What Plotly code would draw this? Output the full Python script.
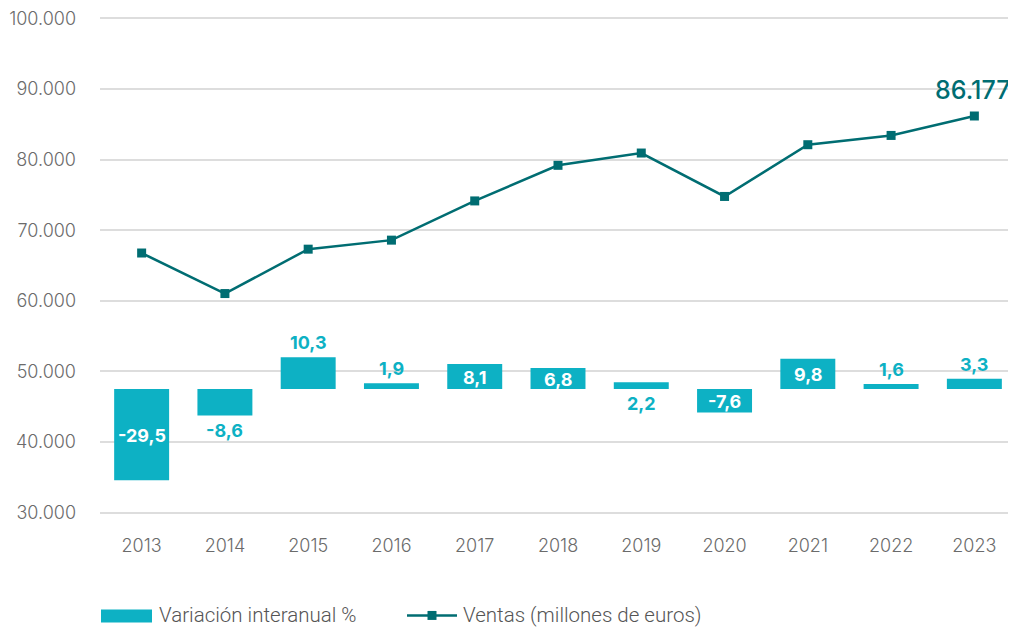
import plotly.graph_objects as go

years = ["2013", "2014", "2015", "2016", "2017", "2018", "2019", "2020", "2021", "2022", "2023"]
ventas = [66769, 61027, 67313, 68592, 74148, 79190, 80932, 74781, 82110, 83424, 86177]
variacion = [-29.5, -8.6, 10.3, 1.9, 8.1, 6.8, 2.2, -7.6, 9.8, 1.6, 3.3]
label_pos = ["in", "below", "above", "above", "in", "in", "below", "in", "in", "above", "above"]
y_ticks = [30000, 40000, 50000, 60000, 70000, 80000, 90000, 100000]

BAR = "#0db1c4"
LINE = "#006d72"
GRID = "#dddddd"
TICK = "#6b6b6b"
FONT = "Inter, Roboto, sans-serif"

xs = list(range(len(years)))

fig = go.Figure()
fig.add_trace(go.Bar(
    x=xs, y=variacion, yaxis="y2", name="Variación interanual %",
    marker=dict(color=BAR, line=dict(width=0)), width=0.66, showlegend=False,
    hoverinfo="skip"))
fig.add_trace(go.Scatter(
    x=xs, y=ventas, name="Ventas (millones de euros)", mode="lines+markers",
    line=dict(color=LINE, width=2.5), marker=dict(symbol="square", size=9, color=LINE),
    showlegend=False))

annotations = []
for i, (v, p) in enumerate(zip(variacion, label_pos)):
    txt = f"{v:.1f}".replace(".", ",")
    if p == "in":
        annotations.append(dict(x=i, y=v / 2, xref="x", yref="y2", text=f"<b>{txt}</b>",
                                showarrow=False, yanchor="middle", yshift=-1,
                                font=dict(family=FONT, size=18, color="white")))
    elif p == "above":
        annotations.append(dict(x=i, y=max(v, 0), xref="x", yref="y2", text=f"<b>{txt}</b>",
                                showarrow=False, yanchor="bottom", yshift=2,
                                font=dict(family=FONT, size=18, color=BAR)))
    else:
        annotations.append(dict(x=i, y=min(v, 0), xref="x", yref="y2", text=f"<b>{txt}</b>",
                                showarrow=False, yanchor="top", yshift=-2,
                                font=dict(family=FONT, size=18, color=BAR)))

last = f"{ventas[-1]:,}".replace(",", ".")
annotations.append(dict(x=xs[-1], y=ventas[-1], xref="x", yref="y", text=last,
                        showarrow=False, yanchor="bottom", yshift=9, xshift=-1,
                        font=dict(family=FONT, size=25, color=LINE, weight=500)))

# custom legend (page body has an 8px margin)
PL, PW = 100, 916
PT, PH = 16.6, 497.8
def px(x):
    return (x - PL) / PW
def py(y):
    return (PT + PH - y) / PH

shapes = [
    dict(type="rect", xref="paper", yref="paper", x0=px(101), x1=px(152), y0=py(623), y1=py(610),
         fillcolor=BAR, line=dict(width=0)),
    dict(type="line", xref="paper", yref="paper", x0=px(407), x1=px(457), y0=py(616), y1=py(616),
         line=dict(color=LINE, width=2.5)),
    dict(type="rect", xref="paper", yref="paper", x0=px(427.5), x1=px(436.5), y0=py(620.5), y1=py(611.5),
         fillcolor=LINE, line=dict(width=0)),
]
annotations.append(dict(x=px(157), y=py(616), xref="paper", yref="paper", text="Variación interanual %",
                        showarrow=False, xanchor="left", yanchor="middle",
                        font=dict(family="Roboto, sans-serif", size=20.5, color="#555555", weight=300)))
annotations.append(dict(x=px(461), y=py(616), xref="paper", yref="paper", text="Ventas (millones de euros)",
                        showarrow=False, xanchor="left", yanchor="middle",
                        font=dict(family="Roboto, sans-serif", size=20.5, color="#555555", weight=300)))

fig.update_layout(
    width=1008, height=624,
    margin=dict(l=92, r=0, t=8.6, b=117.6),
    paper_bgcolor="white", plot_bgcolor="white",
    separators=",.",
    xaxis=dict(range=[-0.5, 10.5], tickvals=xs, ticktext=years, showgrid=False, showline=False,
               zeroline=False, ticks="",
               tickfont=dict(family=FONT, size=18, color=TICK, weight=300),
               ticklabelstandoff=19),
    yaxis=dict(range=[29800, 100200], tickvals=y_ticks, tickformat=",d", showgrid=True, gridcolor=GRID,
               gridwidth=1.5, zeroline=False, showline=False, ticks="",
               tickfont=dict(family=FONT, size=18, color=TICK, weight=300),
               ticklabelstandoff=23, ticklabeloverflow="allow"),
    yaxis2=dict(range=[-40.457, 120.457], overlaying="y", side="right", showgrid=False, zeroline=False,
                showticklabels=False, showline=False, ticks=""),
    annotations=annotations,
    shapes=shapes,
    showlegend=False,
)

fig.write_html("out.html")
